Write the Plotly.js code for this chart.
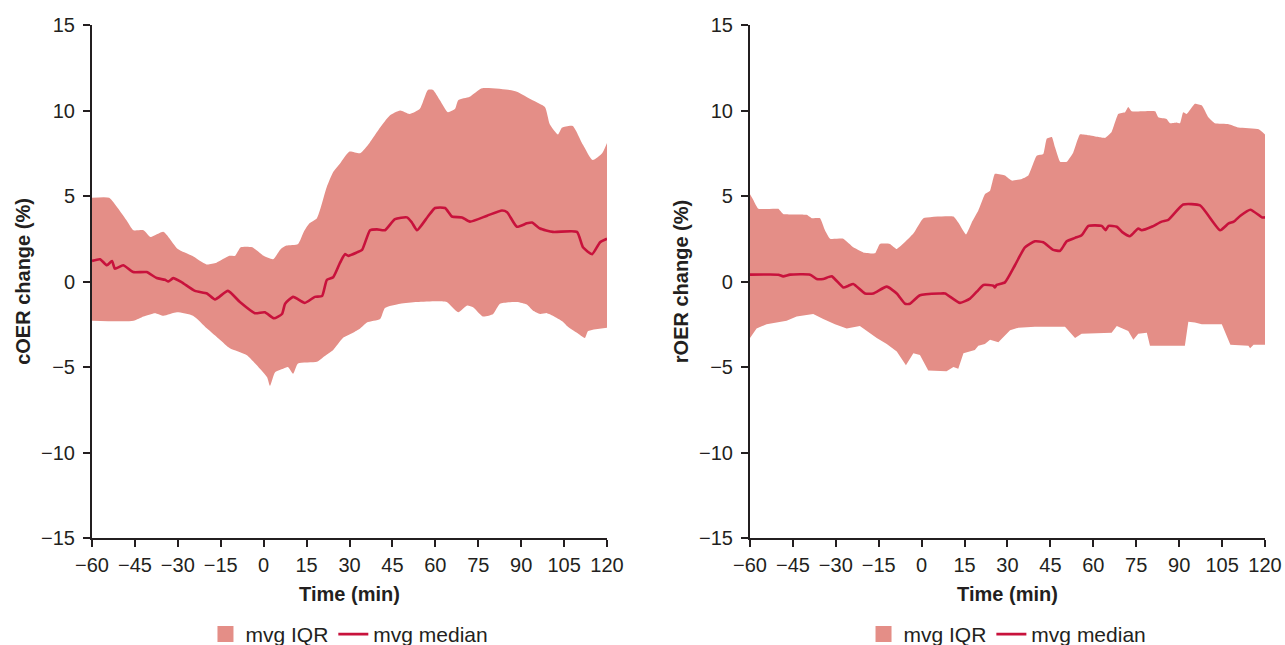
<!DOCTYPE html>
<html>
<head>
<meta charset="utf-8">
<script src="https://cdn.plot.ly/plotly-3.0.1.min.js"></script>
<style>html,body{margin:0;padding:0;background:#fff;}#chart{width:1285px;height:645px;}</style>
</head>
<body>
<div id="chart"></div>
<script>
// ---- Data ----
const timeTicks = [-60, -45, -30, -15, 0, 15, 30, 45, 60, 75, 90, 105, 120];
const valueTicks = [-15, -10, -5, 0, 5, 10, 15];

// Left panel: cOER change (%)
const cUpperT = [-60, -54, -51, -48, -45.5, -42, -39.5, -35, -30, -25, -20, -16.5, -12, -10, -8, -4, 0, 3.3, 6, 8, 12, 14, 16, 18.6, 22, 24.3, 26.7, 30, 33.7, 37, 40.7, 44, 47.7, 51, 54.6, 57.4, 59.2, 61.6, 64.4, 66.9, 68, 72, 76.3, 86, 88.5, 94, 98.3, 100, 102.9, 104.3, 108, 111.6, 115, 118.3, 120];
const cUpperV = [4.9, 4.9, 4.3, 3.6, 3.0, 3.0, 2.6, 2.9, 1.9, 1.5, 1.0, 1.1, 1.5, 1.5, 2.0, 2.0, 1.5, 1.3, 1.9, 2.1, 2.2, 2.9, 3.4, 3.7, 5.5, 6.4, 6.9, 7.6, 7.5, 8.1, 9.0, 9.7, 10.0, 9.8, 10.1, 11.2, 11.2, 10.6, 9.9, 10.1, 10.6, 10.8, 11.3, 11.2, 11.1, 10.6, 10.2, 9.2, 8.6, 9.0, 9.1, 8.0, 7.1, 7.5, 8.1];
const cLowerT = [-60, -45.5, -42, -38, -35, -30.3, -24.7, -19.8, -15.3, -11.8, -6, -1.3, 1.2, 2.2, 4, 6.8, 8.5, 10.3, 12, 18.6, 21, 24.3, 27.7, 31.2, 33.7, 36.1, 40.7, 42.4, 47.7, 53.6, 60.6, 64, 68, 71.1, 73.2, 76.7, 80.2, 82.6, 88.5, 92, 94.1, 96.6, 99, 101.1, 104.6, 106, 109.5, 112.3, 113.4, 120];
const cLowerV = [-2.3, -2.3, -2.05, -1.85, -2.0, -1.8, -2.0, -2.75, -3.4, -3.9, -4.3, -5.1, -5.6, -6.1, -5.3, -5.1, -5.0, -5.4, -4.8, -4.7, -4.4, -4.0, -3.3, -3.0, -2.75, -2.4, -2.2, -1.55, -1.3, -1.2, -1.15, -1.2, -1.8, -1.4, -1.5, -2.05, -1.9, -1.3, -1.2, -1.35, -1.7, -1.9, -1.85, -2.0, -2.35, -2.6, -3.0, -3.3, -2.9, -2.7];
const cMedianT = [-60, -57.2, -54.8, -53, -52, -49.1, -45.6, -40.9, -37.4, -34.5, -33.3, -31.6, -28.6, -24, -19.8, -17, -12.5, -8.3, -3.1, 0.4, 3.6, 6.4, 7.5, 10.3, 14.4, 17.9, 20.4, 22.1, 24.3, 26.7, 28.4, 29.6, 32.6, 34.4, 37.2, 39.6, 42.4, 45.9, 50.1, 51.8, 53.6, 57.4, 59.9, 63.4, 65.8, 69.3, 72.1, 78.1, 83.3, 85.1, 88.5, 92, 93.8, 96.6, 101.1, 109.5, 111.6, 114.8, 117.6, 120];
const cMedianV = [1.2, 1.3, 0.95, 1.2, 0.75, 0.95, 0.55, 0.55, 0.2, 0.1, 0.0, 0.2, -0.05, -0.55, -0.7, -1.05, -0.55, -1.2, -1.85, -1.8, -2.15, -1.9, -1.3, -0.9, -1.25, -0.9, -0.85, 0.1, 0.25, 1.1, 1.6, 1.5, 1.7, 1.85, 3.0, 3.05, 3.0, 3.65, 3.75, 3.45, 3.0, 3.8, 4.3, 4.3, 3.8, 3.75, 3.5, 3.85, 4.15, 4.05, 3.2, 3.4, 3.45, 3.1, 2.9, 2.9, 2.0, 1.6, 2.3, 2.5];

// Right panel: rOER change (%)
const rUpperT = [-60, -58.8, -57.1, -50.1, -48.4, -40.2, -38.4, -35.5, -33.8, -32, -27.4, -23.9, -20.4, -16.3, -14.6, -11.1, -8.7, -2.9, 0.6, 11.1, 12.8, 15.5, 17.5, 19.8, 22.1, 23.9, 25.6, 29.1, 31.5, 35, 37.3, 40.2, 42.5, 43.7, 45.5, 46.6, 48.4, 50.7, 53, 55.3, 58.3, 61.8, 64.1, 66.4, 68.7, 71.1, 72.2, 73.4, 81.6, 82.7, 85.6, 86.8, 89.1, 90.3, 91.4, 92.6, 95.5, 97.9, 100.2, 102.5, 107.3, 110.8, 117.8, 120];
const rUpperV = [5.1, 4.75, 4.25, 4.25, 3.95, 3.9, 3.7, 3.7, 3.0, 2.5, 2.5, 2.0, 1.7, 1.65, 2.2, 2.2, 1.9, 2.8, 3.7, 3.8, 3.45, 2.75, 3.45, 4.15, 5.1, 5.3, 6.3, 6.2, 5.9, 6.0, 6.2, 7.35, 7.45, 8.35, 8.45, 7.85, 7.0, 7.0, 7.55, 8.6, 8.55, 8.45, 8.4, 8.75, 9.8, 9.9, 10.2, 9.95, 9.95, 9.6, 9.5, 9.25, 9.3, 9.25, 9.9, 9.8, 10.4, 10.3, 9.6, 9.25, 9.2, 9.0, 8.9, 8.6];
const rLowerT = [-60, -57.7, -54.2, -47.2, -43.7, -37.9, -34.4, -30.3, -26.2, -21.6, -15.7, -12.2, -8.7, -5.5, -2.9, -0.6, 2.3, 8.7, 11.1, 12.8, 14.6, 18.6, 19.8, 22.1, 23.9, 26.8, 30.9, 33.8, 39.6, 50.1, 53.6, 55.9, 66.4, 68.2, 72.2, 74, 75.7, 78.7, 79.8, 92, 93.2, 95.5, 97.9, 104.9, 107.9, 114.2, 114.8, 116, 120];
const rLowerV = [-3.3, -2.75, -2.5, -2.3, -2.05, -1.9, -2.2, -2.5, -2.75, -2.6, -3.3, -3.65, -4.1, -4.9, -4.2, -4.3, -5.2, -5.25, -5.0, -5.1, -4.2, -4.0, -3.75, -3.65, -3.4, -3.55, -2.85, -2.7, -2.65, -2.65, -3.3, -3.05, -3.0, -2.6, -2.9, -3.4, -3.05, -3.0, -3.75, -3.75, -2.35, -2.4, -2.5, -2.5, -3.7, -3.75, -3.9, -3.7, -3.7];
const rMedianT = [-60, -50.1, -48.4, -46, -39, -36.7, -34.4, -31.4, -27.4, -25.6, -23.9, -19.8, -16.9, -12.2, -8.7, -5.8, -4.1, -0.6, 6.4, 8.2, 13.4, 16.9, 19.8, 21.6, 25.1, 25.6, 26.2, 29.1, 32.6, 36.1, 39.6, 42.5, 46, 48.4, 50.7, 53.6, 55.9, 58.3, 62.9, 64.3, 65.3, 68.2, 70, 72.8, 75.7, 76.9, 80.4, 83.9, 86.2, 91.4, 97.3, 104.3, 107.3, 109.1, 111.4, 114.9, 119, 120];
const rMedianV = [0.4, 0.4, 0.3, 0.4, 0.4, 0.15, 0.15, 0.3, -0.35, -0.25, -0.15, -0.7, -0.7, -0.3, -0.7, -1.3, -1.3, -0.8, -0.7, -0.7, -1.25, -1.0, -0.5, -0.2, -0.25, -0.35, -0.2, -0.05, 0.95, 2.0, 2.35, 2.3, 1.85, 1.8, 2.35, 2.55, 2.7, 3.25, 3.25, 3.0, 3.25, 3.2, 2.9, 2.65, 3.1, 3.0, 3.2, 3.5, 3.6, 4.5, 4.45, 3.0, 3.4, 3.5, 3.85, 4.2, 3.75, 3.75];

const seriesNames = ['mvg IQR', 'mvg median'];
const panelTitles = ['cOER change (%)', 'rOER change (%)'];
const xTitle = 'Time (min)';

// ---- Styles ----
const FILL = 'rgb(228,142,135)';
const LINE = 'rgb(200,18,60)';
const INK = '#231f20';
const FONT = 'Liberation Sans, Arial, Helvetica, sans-serif';

function panel(xa, ya, legendId, upT, upV, loT, loV, mdT, mdV, lowerShape, bandSmooth) {
  return [
    {x: loT, y: loV, xaxis: xa, yaxis: ya, type: 'scatter', mode: 'lines',
     line: {width: 0, color: FILL, shape: lowerShape, smoothing: bandSmooth}, showlegend: false, hoverinfo: 'skip'},
    {x: upT, y: upV, xaxis: xa, yaxis: ya, type: 'scatter', mode: 'lines', fill: 'tonexty', fillcolor: FILL,
     line: {width: 0, color: FILL, shape: 'spline', smoothing: bandSmooth}, showlegend: false, hoverinfo: 'skip'},
    {x: [null], y: [null], xaxis: xa, yaxis: ya, type: 'scatter', mode: 'markers', name: seriesNames[0],
     marker: {symbol: 'square', size: 16, color: FILL}, legend: legendId},
    {x: mdT, y: mdV, xaxis: xa, yaxis: ya, type: 'scatter', mode: 'lines', name: seriesNames[1],
     line: {width: 2.6, color: LINE, shape: 'spline', smoothing: 0.5}, legend: legendId}
  ];
}

const data = [].concat(
  panel('x', 'y', 'legend', cUpperT, cUpperV, cLowerT, cLowerV, cMedianT, cMedianV, 'spline', 0.55),
  panel('x2', 'y2', 'legend2', rUpperT, rUpperV, rLowerT, rLowerV, rMedianT, rMedianV, 'linear', 0.35)
);

function xAxis(domain, anchor) {
  return {
    domain: domain, anchor: anchor, range: [-60, 120], tickmode: 'array', tickvals: timeTicks,
    showline: true, linewidth: 2, linecolor: INK, ticks: 'outside', ticklen: 7, tickwidth: 2, tickcolor: INK,
    showgrid: false, zeroline: false, tickfont: {size: 20, color: INK, family: FONT},
    ticklabelstandoff: 1,
    title: {text: xTitle, font: {size: 20, color: INK, family: FONT, weight: 'bold'}, standoff: 12}
  };
}
function yAxis(anchor, title) {
  return {
    domain: [0, 1], anchor: anchor, range: [-15, 15], tickmode: 'array', tickvals: valueTicks,
    showline: true, linewidth: 2, linecolor: INK, ticks: 'outside', ticklen: 7, tickwidth: 2, tickcolor: INK,
    showgrid: false, zeroline: false, tickfont: {size: 20, color: INK, family: FONT},
    ticklabelstandoff: 4,
    title: {text: title, font: {size: 20, color: INK, family: FONT, weight: 'bold'}, standoff: 5}
  };
}

const legendBase = {
  orientation: 'h', xanchor: 'center', yanchor: 'middle', y: -0.188, traceorder: 'normal',
  font: {size: 21, color: INK, family: FONT}, bgcolor: 'rgba(0,0,0,0)', itemclick: false, itemdoubleclick: false
};

const layout = {
  width: 1285, height: 645,
  margin: {l: 92, r: 20, t: 24.5, b: 107.3, autoexpand: false},
  paper_bgcolor: '#ffffff', plot_bgcolor: '#ffffff',
  font: {family: FONT, color: INK},
  showlegend: true,
  xaxis: xAxis([0, 0.43904], 'y'),
  yaxis: yAxis('x', panelTitles[0]),
  xaxis2: xAxis([0.56095, 1], 'y2'),
  yaxis2: yAxis('x2', panelTitles[1]),
  legend: Object.assign({}, legendBase, {x: 0.2195}),
  legend2: Object.assign({}, legendBase, {x: 0.7805})
};

Plotly.newPlot('chart', data, layout, {staticPlot: true, displayModeBar: false});
</script>
</body>
</html>
